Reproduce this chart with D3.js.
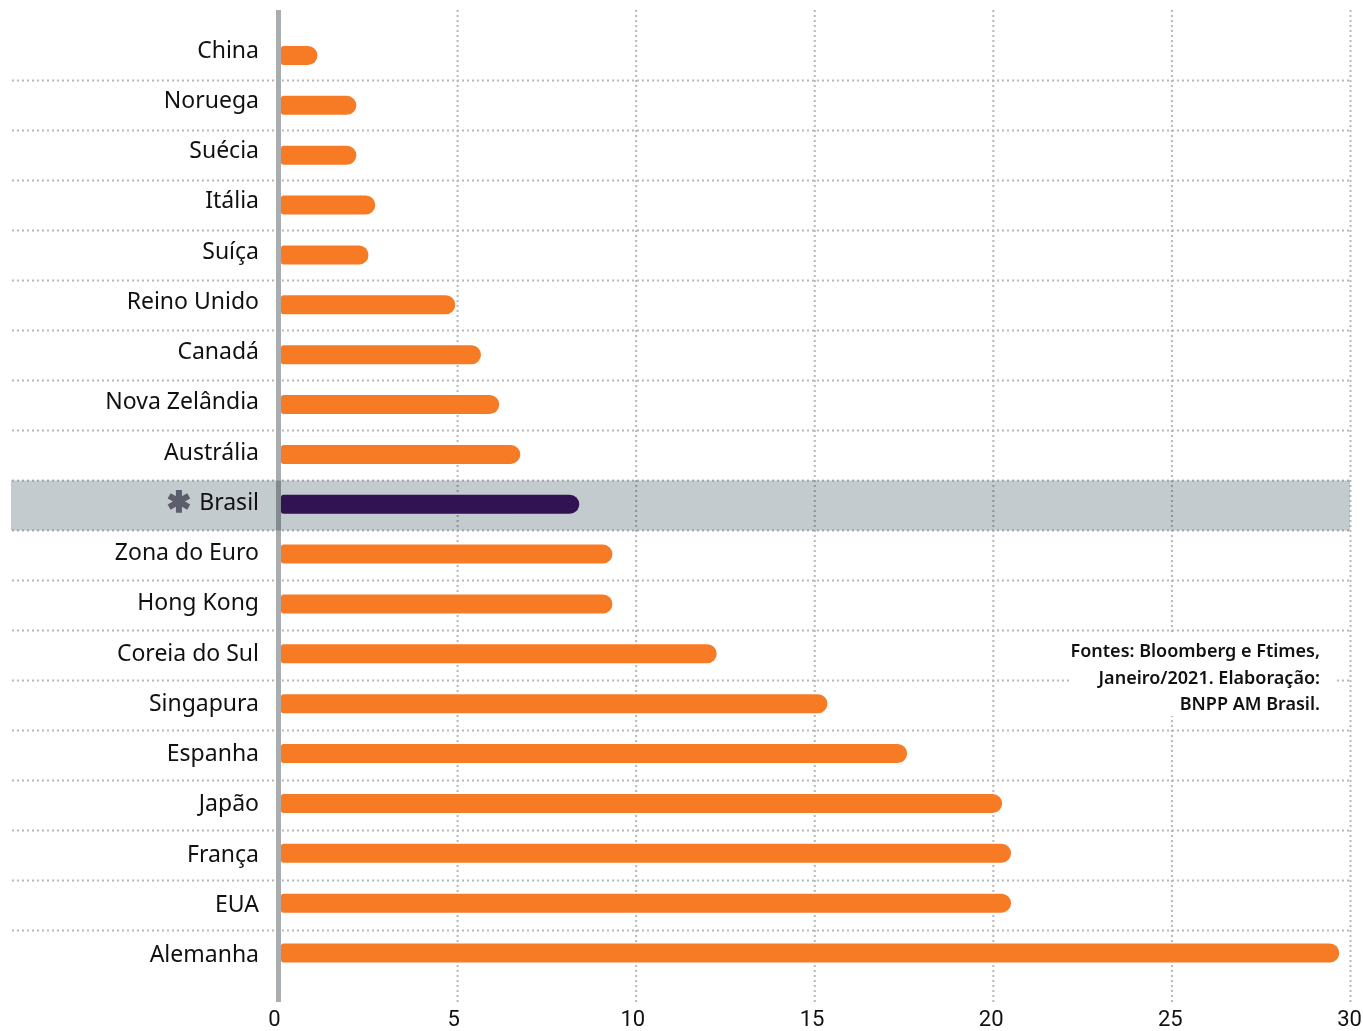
<!DOCTYPE html>
<meta charset="utf-8">
<script src="https://d3js.org/d3.v7.min.js"></script>
<style>
  html, body { margin: 0; padding: 0; background: #fff; }
  svg { display: block; }
  text { font-family: "Noto Sans", sans-serif; fill: #111; }
</style>
<body>
<div id="my_dataviz"></div>
<script>
// values
var countries = ["China", "Noruega", "Suécia", "Itália", "Suíça", "Reino Unido", "Canadá", "Nova Zelândia", "Austrália", "Brasil", "Zona do Euro", "Hong Kong", "Coreia do Sul", "Singapura", "Espanha", "Japão", "França", "EUA", "Alemanha"];
var values = [1.09, 2.18, 2.18, 2.71, 2.52, 4.95, 5.67, 6.18, 6.77, 8.42, 9.35, 9.35, 12.27, 15.37, 17.6, 20.26, 20.51, 20.51, 29.7];
var xTicks = [0, 5, 10, 15, 20, 25, 30];
var sourceLines = ["Fontes: Bloomberg e Ftimes,", "Janeiro/2021. Elaboração:", "BNPP AM Brasil."];
var highlight = "Brasil";

var width = 1363, height = 1031;
var left = 278.5, right = 1350, top_ = 30.5, bottom = 980.5;

var svg = d3.select("#my_dataviz").append("svg")
  .attr("width", width)
  .attr("height", height);

var x = d3.scaleLinear().domain([0, 30]).range([left, right]);
var y = d3.scaleBand().domain(countries).range([top_, bottom]);
// the bars and the labels drift a little against the separators in the original
var yBar = d3.scalePoint().domain(countries).range([55.5, 953]);
var yLabel = d3.scalePoint().domain(countries).range([49.5, 954]);
var xLabel = d3.scaleLinear().domain([0, 30]).range([274, 1349]);

// vertical grid + tick labels
var xAxis = svg.append("g")
  .attr("transform", "translate(0,1002)")
  .call(d3.axisBottom(x).tickValues(xTicks).tickSize(-992).tickPadding(7));
xAxis.select(".domain").remove();
xAxis.selectAll("line")
  .attr("stroke", "#b4b9bc").attr("stroke-width", 2).attr("stroke-dasharray", "2 3");
xAxis.selectAll("line").filter(function(d) { return d === 0; }).remove();
xAxis.selectAll("text")
  .attr("x", function(d) { return xLabel(d) - x(d); })
  .attr("y", 23.5)
  .attr("dy", 0)
  .attr("text-anchor", "middle")
  .style("font-family", "Roboto, sans-serif")
  .style("font-size", "22px")
  .style("fill", "#111");

// horizontal separators
svg.append("g").selectAll("line")
  .data(countries.slice(1))
  .join("line")
  .attr("x1", 12).attr("x2", right)
  .attr("y1", function(d) { return y(d); })
  .attr("y2", function(d) { return y(d); })
  .attr("stroke", "#b4b9bc").attr("stroke-width", 2).attr("stroke-dasharray", "2 3");

// zero line
svg.append("line")
  .attr("x1", x(0)).attr("x2", x(0))
  .attr("y1", 10).attr("y2", 1002)
  .attr("stroke", "#a9adb0").attr("stroke-width", 5);

// Brasil band
svg.append("rect")
  .attr("x", 11).attr("width", right - 11)
  .attr("y", y(highlight)).attr("height", y.bandwidth())
  .attr("fill", "#c3cbce")
  .style("mix-blend-mode", "multiply");

// bars, big radius on the right only
var barH = 19, r0 = 2.5, r1 = 9.5;
function barPath(d, i) {
  var x0 = x(0) + 2.5, x1 = x(values[i]);
  var y0 = yBar(d) - barH / 2, y1 = y0 + barH;
  var p = d3.path();
  p.moveTo(x0 + r0, y0);
  p.lineTo(x1 - r1, y0);
  p.arcTo(x1, y0, x1, y0 + r1, r1);
  p.arcTo(x1, y1, x1 - r1, y1, r1);
  p.lineTo(x0 + r0, y1);
  p.arcTo(x0, y1, x0, y1 - r0, r0);
  p.lineTo(x0, y0 + r0);
  p.arcTo(x0, y0, x0 + r0, y0, r0);
  p.closePath();
  return p.toString();
}
svg.append("g").selectAll("path")
  .data(countries)
  .join("path")
  .attr("d", barPath)
  .attr("fill", function(d) { return d === highlight ? "#311252" : "#f77b24"; });

// country labels
svg.append("g").selectAll("text")
  .data(countries)
  .join("text")
  .attr("x", 259)
  .attr("y", function(d) { return yLabel(d) + 8; })
  .attr("text-anchor", "end")
  .style("font-size", "23px")
  .text(function(d) { return d; });

// asterisk next to Brasil
svg.append("text")
  .attr("x", 179)
  .attr("y", yLabel(highlight) + 10)
  .attr("text-anchor", "middle")
  .style("font-family", "'DejaVu Sans', sans-serif")
  .style("font-size", "29px")
  .style("fill", "#5c5f6b")
  .style("stroke", "#5c5f6b")
  .style("stroke-width", 1.5)
  .text("\u2731");

// source note over a white box
svg.append("rect")
  .attr("x", 1072).attr("y", 633)
  .attr("width", 263).attr("height", 83)
  .attr("fill", "#fff");
svg.append("g").selectAll("text")
  .data(sourceLines)
  .join("text")
  .attr("x", 1320)
  .attr("y", function(d, i) { return 657 + i * 26.5; })
  .attr("text-anchor", "end")
  .style("font-size", "18px")
  .style("font-weight", 600)
  .text(function(d) { return d; });
</script>
</body>
